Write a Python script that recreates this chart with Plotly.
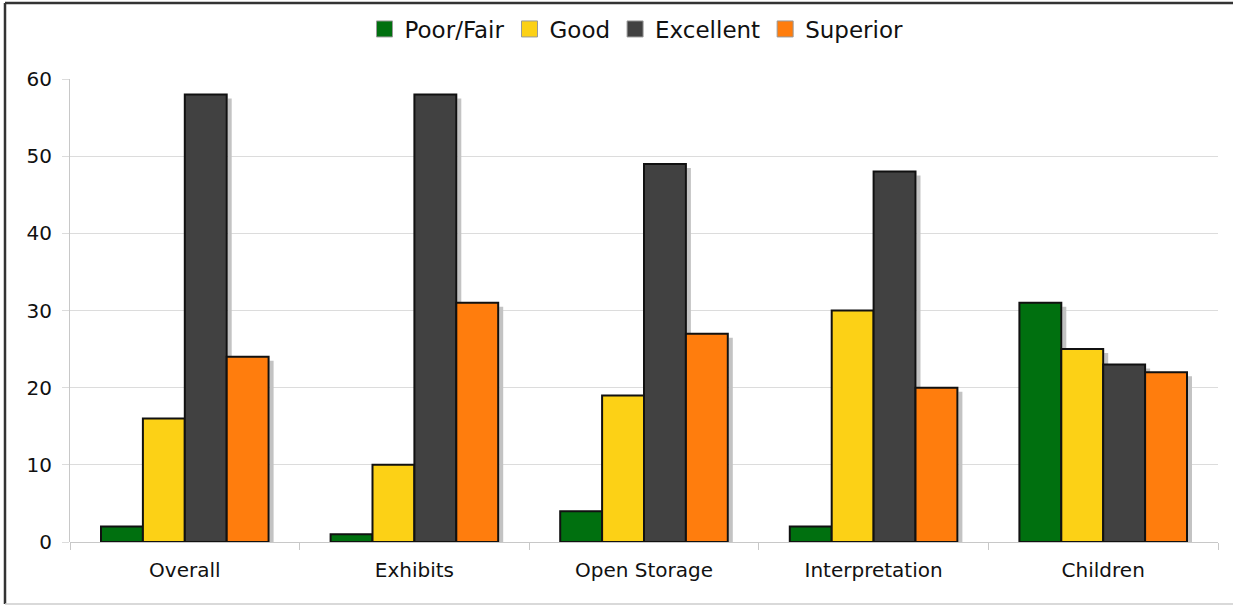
import plotly.graph_objects as go

categories = ["Overall", "Exhibits", "Open Storage", "Interpretation", "Children"]
series_names = ["Poor/Fair", "Good", "Excellent", "Superior"]
poor_fair = [2, 1, 4, 2, 31]
good = [16, 10, 19, 30, 25]
excellent = [58, 58, 49, 48, 23]
superior = [24, 31, 27, 20, 22]
y_ticks = [0, 10, 20, 30, 40, 50, 60]

series_values = [poor_fair, good, excellent, superior]
colors = ["#00700F", "#FCD116", "#414141", "#FF7D0D"]

W, H = 1233, 606
ML, MR, MT, MB = 70, 15, 79, 64
PH = H - MT - MB
PW = W - ML - MR
BARGAP = 0.27
SHADOW_PX = 4

fig = go.Figure()
for name, vals, col in zip(series_names, series_values, colors):
    fig.add_trace(go.Bar(
        name=name, x=categories, y=vals, showlegend=False,
        marker=dict(color=col, line=dict(color="#111111", width=2)),
    ))
# legend entries with larger square swatches
for name, col in zip(series_names, colors):
    fig.add_trace(go.Scatter(
        name=name, x=[None], y=[None], mode="markers",
        marker=dict(symbol="square", size=16, color=col, line=dict(color="#999999", width=1)),
    ))

# drop shadows derived from the bar values and the group layout
n = len(series_values)
group_w = 1 - BARGAP
bar_w = group_w / n
unit_px = PH / (y_ticks[-1] - y_ticks[0])
shapes = []
for j, vals in enumerate(series_values):
    for i, v in enumerate(vals):
        right = i - group_w / 2 + (j + 1) * bar_w
        shapes.append(dict(
            type="rect", xref="x", yref="y", layer="between",
            xsizemode="pixel", xanchor=right, x0=1, x1=1 + SHADOW_PX,
            y0=0, y1=max(v - SHADOW_PX / unit_px, 0),
            fillcolor="#c3c3c3", line=dict(width=0),
        ))

# frame around the chart
def px_x(p):
    return (p - ML) / PW
def px_y(p):
    return (H - MB - p) / PH

shapes += [
    dict(type="line", xref="paper", yref="paper", x0=px_x(5), x1=px_x(W + 20), y0=px_y(3), y1=px_y(3),
         line=dict(color="#333333", width=2.5), layer="above"),
    dict(type="line", xref="paper", yref="paper", x0=px_x(5), x1=px_x(5), y0=px_y(3), y1=px_y(604),
         line=dict(color="#333333", width=2.5), layer="above"),
    dict(type="line", xref="paper", yref="paper", x0=px_x(5), x1=px_x(W + 20), y0=px_y(604), y1=px_y(604),
         line=dict(color="#cccccc", width=1.5), layer="above"),
]

font_family = "DejaVu Sans, Verdana, sans-serif"
fig.update_layout(
    width=W, height=H, autosize=False,
    margin=dict(l=ML, r=MR, t=MT, b=MB, autoexpand=False),
    paper_bgcolor="white", plot_bgcolor="white",
    barmode="group", bargap=BARGAP, bargroupgap=0,
    font=dict(family=font_family, size=20, color="#111111"),
    legend=dict(orientation="h", x=0.5 + 20 / W, xanchor="center", xref="container",
                y=1 - 29 / H, yanchor="middle", yref="container",
                font=dict(size=23), itemwidth=30, tracegroupgap=0,
                traceorder="normal"),
    shapes=shapes,
    xaxis=dict(type="category", range=[-0.5, len(categories) - 0.5],
               tickson="boundaries", ticks="outside", ticklen=7, tickcolor="#c8c8c8",
               showline=False, showgrid=False, tickfont=dict(size=20),
               ticklabelstandoff=14),
    yaxis=dict(range=[y_ticks[0], y_ticks[-1]], tickvals=y_ticks,
               ticks="outside", ticklen=7, tickcolor="#dcdcdc",
               showline=True, linecolor="#c8c8c8", linewidth=1,
               gridcolor="#dcdcdc", gridwidth=1, zeroline=True, zerolinecolor="#c8c8c8",
               zerolinewidth=1, tickfont=dict(size=20), ticklabelstandoff=6),
)

fig.write_html("out.html")
